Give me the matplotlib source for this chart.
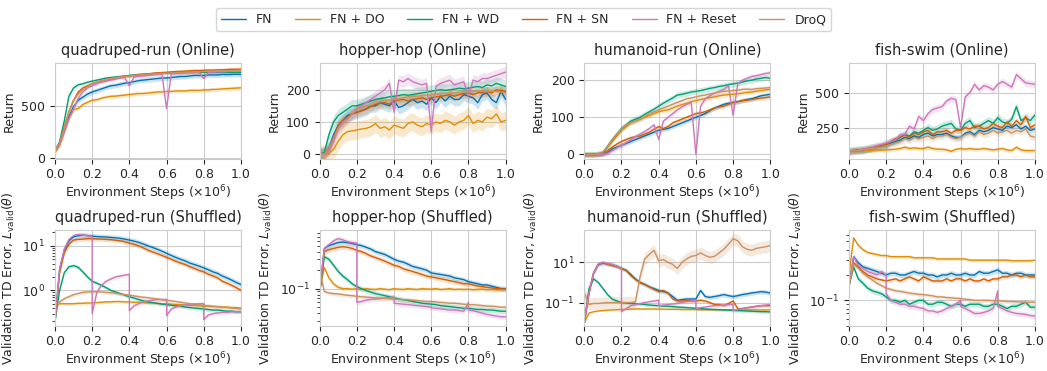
import numpy as np
import matplotlib
matplotlib.use("Agg")
import matplotlib.pyplot as plt
import seaborn as sns

methods = ["FN", "FN + DO", "FN + WD", "FN + SN", "FN + Reset", "DroQ"]
reset_steps = [0.2, 0.4, 0.6, 0.8]

# ---- online return curves (41 evaluation points from 0 to 1e6 steps) ----
quad_online = {
    "FN": [70, 150, 290, 400, 500, 560, 590, 620, 640, 655,
           670, 685, 700, 705, 715, 725, 730, 740, 750, 755,
           760, 765, 770, 775, 775, 780, 785, 790, 790, 795,
           800, 800, 800, 805, 805, 805, 810, 808, 810, 812, 810],
    "FN + DO": [60, 120, 250, 380, 470, 480, 520, 540, 560, 565,
                580, 590, 598, 600, 605, 610, 615, 620, 625, 625,
                630, 635, 640, 640, 645, 645, 650, 650, 650, 655,
                655, 655, 660, 660, 665, 665, 670, 672, 675, 678, 680],
    "FN + WD": [70, 160, 360, 600, 680, 710, 720, 735, 745, 755,
                765, 775, 780, 785, 790, 795, 800, 805, 810, 812,
                815, 818, 820, 822, 825, 825, 828, 828, 830, 830,
                830, 830, 832, 830, 830, 830, 832, 830, 830, 832, 830],
    "FN + SN": [70, 140, 300, 450, 560, 640, 680, 700, 720, 735,
                745, 755, 765, 775, 785, 790, 795, 800, 805, 810,
                815, 820, 825, 828, 830, 835, 838, 840, 842, 845,
                848, 848, 850, 852, 852, 855, 855, 858, 860, 860, 862],
    "FN + Reset": [70, 130, 250, 380, 480, 580, 640, 680, 700, 720,
                   735, 745, 755, 765, 775, 780, 700, 785, 790, 795,
                   800, 805, 810, 812, 480, 815, 818, 820, 822, 825,
                   828, 830, 770, 830, 832, 835, 835, 838, 840, 840, 842],
    "DroQ": [70, 150, 290, 450, 560, 620, 660, 690, 715, 735,
             750, 760, 770, 778, 785, 790, 795, 800, 805, 810,
             812, 815, 818, 820, 822, 825, 828, 830, 830, 832,
             835, 836, 838, 840, 840, 842, 844, 845, 846, 848, 850],
}

hopper_online = {
    "FN": [0, 0, 20, 60, 90, 105, 120, 125, 130, 135,
           140, 150, 150, 160, 155, 150, 165, 145, 150, 160,
           170, 160, 165, 155, 175, 160, 180, 165, 180, 170,
           170, 185, 180, 175, 160, 185, 190, 170, 160, 195, 170],
    "FN + DO": [0, 0, 2, 15, 40, 60, 70, 72, 75, 78,
                80, 85, 95, 80, 85, 75, 90, 85, 80, 95,
                100, 90, 85, 95, 90, 100, 95, 105, 100, 90,
                100, 105, 120, 95, 105, 100, 115, 110, 125, 100, 105],
    "FN + WD": [0, 5, 60, 100, 120, 130, 140, 150, 150, 155,
                160, 165, 170, 172, 175, 178, 180, 182, 185, 183,
                185, 188, 190, 192, 195, 198, 200, 198, 200, 202,
                205, 203, 205, 208, 210, 207, 215, 212, 220, 215, 210],
    "FN + SN": [0, 0, 15, 50, 90, 105, 115, 125, 130, 135,
                140, 148, 155, 158, 160, 155, 165, 168, 170, 165,
                170, 172, 175, 170, 175, 178, 180, 182, 185, 180,
                185, 188, 190, 185, 190, 192, 195, 190, 200, 198, 195],
    "FN + Reset": [0, 0, 10, 40, 80, 100, 110, 125, 140, 150,
                   160, 170, 180, 190, 200, 220, 130, 230, 225, 235,
                   225, 220, 215, 220, 70, 210, 220, 225, 230, 215,
                   220, 225, 180, 230, 225, 235, 235, 240, 245, 250, 255],
    "DroQ": [0, 0, 20, 50, 80, 95, 110, 125, 140, 145,
             150, 152, 160, 163, 165, 168, 170, 172, 175, 178,
             180, 180, 182, 183, 185, 186, 188, 189, 190, 190,
             192, 193, 195, 195, 195, 196, 195, 196, 194, 193, 190],
}

humanoid_online = {
    "FN": [0, 0, 0, 0, 0, 5, 15, 20, 25, 30,
           35, 40, 45, 50, 55, 60, 65, 68, 70, 75,
           80, 85, 90, 95, 100, 105, 110, 118, 125, 130,
           135, 138, 140, 142, 145, 148, 150, 154, 158, 160, 162],
    "FN + DO": [0, 0, 0, 2, 5, 20, 35, 50, 65, 75,
                85, 90, 95, 100, 105, 110, 115, 118, 120, 125,
                130, 134, 138, 142, 145, 148, 150, 153, 155, 158,
                160, 161, 162, 163, 165, 167, 168, 170, 172, 174, 175],
    "FN + WD": [0, 0, 0, 2, 5, 22, 40, 55, 70, 80,
                90, 95, 100, 108, 115, 122, 130, 138, 145, 152,
                160, 162, 165, 168, 170, 172, 175, 178, 180, 183,
                185, 188, 190, 192, 195, 198, 200, 203, 205, 207, 205],
    "FN + SN": [0, 0, 0, 0, 2, 10, 20, 28, 35, 40,
                45, 48, 50, 55, 60, 68, 75, 70, 75, 85,
                90, 95, 100, 105, 110, 112, 115, 120, 125, 128,
                130, 135, 140, 142, 145, 146, 148, 150, 152, 153, 155],
    "FN + Reset": [0, 0, 0, 0, 0, 3, 10, 18, 25, 32,
                   40, 48, 55, 62, 70, 80, 40, 90, 100, 110,
                   120, 128, 135, 140, 0, 130, 150, 158, 165, 170,
                   175, 185, 105, 190, 200, 205, 210, 212, 215, 218, 220],
    "DroQ": [0, 0, 0, 2, 6, 22, 40, 55, 70, 80,
             86, 90, 95, 102, 110, 115, 120, 125, 130, 135,
             140, 145, 150, 152, 155, 158, 160, 163, 165, 168,
             170, 171, 172, 173, 175, 176, 175, 177, 178, 179, 180],
}

fish_online = {
    "FN": [80, 85, 90, 85, 95, 100, 110, 115, 120, 140,
           150, 160, 180, 170, 190, 180, 200, 210, 190, 200,
           200, 210, 190, 180, 180, 210, 220, 200, 230, 220,
           230, 250, 240, 230, 260, 250, 270, 240, 260, 230, 240],
    "FN + DO": [80, 80, 82, 85, 85, 88, 90, 88, 90, 92,
                95, 100, 110, 100, 105, 100, 100, 110, 100, 95,
                95, 90, 80, 95, 100, 95, 100, 95, 95, 100,
                95, 90, 95, 100, 90, 85, 110, 90, 85, 85, 85],
    "FN + WD": [80, 85, 90, 90, 100, 105, 110, 115, 130, 150,
                160, 180, 200, 190, 220, 210, 230, 250, 230, 240,
                260, 270, 280, 240, 230, 280, 300, 250, 260, 280,
                300, 280, 320, 290, 280, 310, 400, 300, 320, 300, 340],
    "FN + SN": [80, 85, 85, 95, 100, 105, 115, 120, 130, 150,
                170, 180, 200, 180, 210, 200, 220, 230, 200, 220,
                220, 230, 210, 230, 230, 250, 240, 260, 260, 240,
                250, 280, 260, 250, 290, 260, 300, 270, 330, 250, 270],
    "FN + Reset": [80, 85, 90, 95, 100, 110, 120, 130, 140, 150,
                   160, 200, 200, 260, 240, 330, 300, 350, 380, 390,
                   400, 440, 460, 450, 250, 470, 500, 560, 520, 550,
                   540, 520, 560, 580, 560, 540, 630, 600, 570, 565, 560],
    "DroQ": [80, 85, 85, 90, 95, 100, 105, 110, 120, 130,
             140, 150, 170, 160, 180, 170, 180, 190, 170, 190,
             190, 200, 180, 170, 180, 200, 210, 190, 220, 200,
             210, 230, 210, 220, 230, 210, 230, 220, 240, 190, 180],
}

# ---- validation TD error on shuffled data ----
quad_shuffled = {
    "FN": [0.2, 3.0, 8.0, 13, 16, 17, 17.4, 17, 16.5, 16.2,
           16, 15.8, 15.5, 15.2, 14.8, 14.2, 13.5, 12.8, 12, 11,
           10, 9.2, 8.4, 7.6, 6.8, 6.1, 5.5, 5.0, 4.6, 4.1,
           3.8, 3.5, 3.2, 2.9, 2.6, 2.4, 2.1, 1.9, 1.7, 1.5, 1.35],
    "FN + DO": [0.45, 0.5, 0.5, 0.5, 0.5, 0.51, 0.51, 0.52, 0.52, 0.53,
                0.54, 0.55, 0.55, 0.56, 0.56, 0.55, 0.55, 0.54, 0.54, 0.53,
                0.52, 0.52, 0.51, 0.5, 0.5, 0.49, 0.48, 0.48, 0.47, 0.46,
                0.46, 0.45, 0.44, 0.44, 0.43, 0.43, 0.42, 0.42, 0.41, 0.41, 0.4],
    "FN + WD": [0.2, 1.0, 2.5, 3.4, 3.6, 3.3, 2.6, 2.0, 1.6, 1.45,
                1.3, 1.15, 1.0, 0.92, 0.85, 0.78, 0.72, 0.67, 0.62, 0.58,
                0.55, 0.53, 0.51, 0.49, 0.48, 0.46, 0.45, 0.44, 0.42, 0.41,
                0.4, 0.39, 0.38, 0.37, 0.36, 0.36, 0.35, 0.34, 0.34, 0.33, 0.33],
    "FN + SN": [0.2, 2.5, 7, 11, 13.5, 14, 14.2, 14.5, 14.5, 14.3,
                14.2, 14, 13.8, 13.4, 13, 12.4, 11.5, 10.8, 10, 9,
                8, 7.3, 6.7, 6.1, 5.5, 5, 4.5, 4.1, 3.8, 3.4,
                3.1, 2.8, 2.6, 2.3, 2.1, 1.9, 1.6, 1.45, 1.3, 1.15, 1.0],
    "FN + Reset": [0.2, 3.0, 8.5, 14, 17, 18, 17.5, 17, 16, 0.9,
                   1.3, 1.6, 1.8, 2.0, 2.1, 2.2, 2.3, 0.45, 0.5, 0.55,
                   0.58, 0.6, 0.62, 0.62, 0.62, 0.38, 0.42, 0.45, 0.47, 0.48,
                   0.49, 0.5, 0.5, 0.28, 0.3, 0.31, 0.32, 0.32, 0.33, 0.33, 0.33],
    "DroQ": [0.45, 0.55, 0.65, 0.72, 0.8, 0.85, 0.9, 0.92, 0.93, 0.93,
             0.92, 0.9, 0.88, 0.86, 0.83, 0.8, 0.78, 0.75, 0.72, 0.7,
             0.68, 0.66, 0.64, 0.62, 0.6, 0.58, 0.56, 0.54, 0.52, 0.5,
             0.49, 0.47, 0.46, 0.45, 0.44, 0.43, 0.42, 0.41, 0.4, 0.39, 0.38],
}
quad_reset_after = [0.3, 0.35, 0.27, 0.22]

hopper_shuffled = {
    "FN": [0.085, 0.45, 0.5, 0.53, 0.56, 0.57, 0.56, 0.54, 0.52, 0.5,
           0.47, 0.44, 0.4, 0.38, 0.36, 0.33, 0.3, 0.28, 0.27, 0.25,
           0.23, 0.22, 0.21, 0.2, 0.18, 0.175, 0.17, 0.165, 0.16, 0.15,
           0.145, 0.14, 0.13, 0.125, 0.12, 0.115, 0.115, 0.11, 0.105, 0.1, 0.1],
    "FN + DO": [0.1, 0.22, 0.15, 0.12, 0.105, 0.1, 0.1, 0.098, 0.1, 0.097,
                0.1, 0.098, 0.097, 0.1, 0.098, 0.096, 0.1, 0.098, 0.097, 0.1,
                0.098, 0.097, 0.1, 0.099, 0.098, 0.1, 0.097, 0.098, 0.1, 0.097,
                0.098, 0.097, 0.098, 0.096, 0.097, 0.098, 0.096, 0.097, 0.096, 0.097, 0.097],
    "FN + WD": [0.085, 0.33, 0.3, 0.24, 0.19, 0.16, 0.14, 0.12, 0.108, 0.1,
                0.093, 0.088, 0.083, 0.08, 0.077, 0.074, 0.071, 0.068, 0.066, 0.064,
                0.062, 0.06, 0.058, 0.057, 0.056, 0.055, 0.053, 0.052, 0.051, 0.05,
                0.049, 0.048, 0.048, 0.047, 0.046, 0.046, 0.045, 0.045, 0.044, 0.043, 0.043],
    "FN + SN": [0.085, 0.4, 0.43, 0.45, 0.47, 0.48, 0.47, 0.45, 0.42, 0.4,
                0.37, 0.34, 0.32, 0.3, 0.28, 0.26, 0.24, 0.23, 0.21, 0.2,
                0.19, 0.18, 0.17, 0.16, 0.155, 0.15, 0.145, 0.14, 0.135, 0.13,
                0.125, 0.12, 0.12, 0.115, 0.11, 0.108, 0.105, 0.103, 0.1, 0.1, 0.098],
    "FN + Reset": [0.085, 0.45, 0.52, 0.6, 0.65, 0.62, 0.58, 0.56, 0.55, 0.062,
                   0.065, 0.067, 0.068, 0.069, 0.07, 0.072, 0.073, 0.057, 0.056, 0.055,
                   0.054, 0.053, 0.052, 0.051, 0.05, 0.048, 0.047, 0.046, 0.045, 0.045,
                   0.044, 0.043, 0.06, 0.044, 0.042, 0.04, 0.038, 0.037, 0.036, 0.035, 0.035],
    "DroQ": [0.2, 0.09, 0.085, 0.083, 0.082, 0.08, 0.078, 0.077, 0.075, 0.074,
             0.073, 0.072, 0.071, 0.07, 0.07, 0.069, 0.068, 0.067, 0.066, 0.066,
             0.065, 0.064, 0.063, 0.062, 0.062, 0.061, 0.06, 0.059, 0.058, 0.058,
             0.057, 0.056, 0.055, 0.055, 0.054, 0.053, 0.052, 0.052, 0.051, 0.05, 0.05],
}
hopper_reset_after = [0.06, 0.058, 0.049, 0.045]

humanoid_shuffled = {
    "FN": [0.01, 0.3, 3, 8, 9, 8.5, 7.5, 6.5, 5, 4,
           2.5, 1.5, 1.0, 0.8, 0.6, 0.5, 0.4, 0.35, 0.3, 0.2,
           0.13, 0.14, 0.15, 0.15, 0.15, 0.4, 0.2, 0.18, 0.2, 0.22,
           0.25, 0.22, 0.2, 0.22, 0.25, 0.27, 0.3, 0.32, 0.35, 0.33, 0.3],
    "FN + DO": [0.01, 0.03, 0.035, 0.038, 0.04, 0.042, 0.043, 0.044, 0.045, 0.046,
                0.047, 0.048, 0.048, 0.048, 0.048, 0.048, 0.047, 0.047, 0.046, 0.046,
                0.046, 0.045, 0.045, 0.045, 0.045, 0.044, 0.044, 0.044, 0.044, 0.044,
                0.044, 0.043, 0.043, 0.043, 0.043, 0.043, 0.043, 0.043, 0.043, 0.043, 0.043],
    "FN + WD": [0.01, 0.5, 1.5, 1.0, 0.5, 0.25, 0.15, 0.12, 0.1, 0.095,
                0.09, 0.088, 0.085, 0.08, 0.075, 0.072, 0.07, 0.067, 0.065, 0.063,
                0.06, 0.058, 0.056, 0.054, 0.052, 0.05, 0.048, 0.046, 0.045, 0.044,
                0.043, 0.042, 0.041, 0.04, 0.039, 0.038, 0.037, 0.036, 0.035, 0.035, 0.034],
    "FN + SN": [0.01, 0.3, 3, 8, 10, 8, 7, 6, 5, 4,
                2.2, 1.4, 1.0, 0.8, 0.6, 0.45, 0.35, 0.4, 0.3, 0.15,
                0.12, 0.12, 0.13, 0.12, 0.12, 0.13, 0.12, 0.1, 0.08, 0.08,
                0.07, 0.09, 0.12, 0.05, 0.05, 0.055, 0.06, 0.065, 0.07, 0.07, 0.07],
    "FN + Reset": [0.01, 0.3, 3, 8.5, 10, 9, 8, 6.5, 5, 0.05,
                   0.07, 0.08, 0.09, 0.1, 0.11, 0.12, 0.13, 0.075, 0.08, 0.085,
                   0.09, 0.1, 0.11, 0.12, 0.13, 0.055, 0.06, 0.065, 0.07, 0.072,
                   0.075, 0.078, 0.08, 0.045, 0.05, 0.055, 0.06, 0.065, 0.07, 0.075, 0.08],
    "DroQ": [0.3, 0.08, 0.09, 0.09, 0.095, 0.1, 0.1, 0.1, 0.1, 0.1,
             0.1, 0.11, 2, 15, 25, 40, 12, 14, 10, 8,
             5, 10, 15, 20, 22, 30, 22, 18, 20, 30,
             45, 80, 150, 120, 60, 45, 40, 50, 55, 60, 70],
}
humanoid_reset_after = [0.035, 0.07, 0.05, 0.04]

fish_shuffled = {
    "FN": [0.15, 0.33, 0.28, 0.25, 0.24, 0.23, 0.22, 0.21, 0.2, 0.21,
           0.21, 0.2, 0.2, 0.21, 0.22, 0.21, 0.21, 0.2, 0.2, 0.19,
           0.2, 0.2, 0.21, 0.2, 0.2, 0.21, 0.2, 0.2, 0.22, 0.21,
           0.21, 0.22, 0.23, 0.21, 0.21, 0.2, 0.21, 0.21, 0.2, 0.2, 0.2],
    "FN + DO": [0.2, 0.55, 0.45, 0.4, 0.37, 0.36, 0.35, 0.34, 0.34, 0.33,
                0.33, 0.33, 0.33, 0.33, 0.32, 0.32, 0.32, 0.32, 0.32, 0.31,
                0.31, 0.31, 0.31, 0.31, 0.31, 0.31, 0.3, 0.3, 0.3, 0.3,
                0.3, 0.3, 0.3, 0.3, 0.3, 0.295, 0.295, 0.295, 0.295, 0.295, 0.3],
    "FN + WD": [0.15, 0.25, 0.18, 0.16, 0.14, 0.13, 0.125, 0.12, 0.11, 0.1,
                0.1, 0.095, 0.1, 0.09, 0.095, 0.1, 0.1, 0.09, 0.09, 0.095,
                0.095, 0.09, 0.085, 0.09, 0.09, 0.085, 0.09, 0.09, 0.09, 0.085,
                0.085, 0.09, 0.09, 0.085, 0.08, 0.085, 0.085, 0.09, 0.095, 0.083, 0.083],
    "FN + SN": [0.15, 0.28, 0.25, 0.22, 0.2, 0.19, 0.18, 0.175, 0.17, 0.175,
                0.18, 0.17, 0.18, 0.19, 0.18, 0.17, 0.19, 0.18, 0.17, 0.17,
                0.17, 0.18, 0.17, 0.18, 0.18, 0.17, 0.18, 0.17, 0.17, 0.18,
                0.17, 0.18, 0.18, 0.19, 0.19, 0.2, 0.2, 0.19, 0.2, 0.19, 0.19],
    "FN + Reset": [0.15, 0.33, 0.26, 0.24, 0.22, 0.21, 0.2, 0.22, 0.2, 0.1,
                   0.095, 0.09, 0.09, 0.085, 0.085, 0.082, 0.08, 0.075, 0.075, 0.072,
                   0.075, 0.08, 0.085, 0.09, 0.1, 0.08, 0.075, 0.07, 0.07, 0.072,
                   0.075, 0.08, 0.13, 0.08, 0.075, 0.072, 0.07, 0.069, 0.068, 0.066, 0.065],
    "DroQ": [0.15, 0.27, 0.24, 0.21, 0.19, 0.175, 0.16, 0.15, 0.14, 0.135,
             0.13, 0.128, 0.125, 0.122, 0.12, 0.118, 0.117, 0.115, 0.113, 0.11,
             0.11, 0.108, 0.107, 0.106, 0.105, 0.103, 0.102, 0.1, 0.1, 0.1,
             0.1, 0.099, 0.099, 0.098, 0.097, 0.097, 0.096, 0.096, 0.095, 0.095, 0.095],
}
fish_reset_after = [0.12, 0.08, 0.085, 0.085]

# half-width of the shaded band (absolute for returns, multiplicative for TD error)
quad_online_spread = [25, 20, 15, 15, 15, 15]
hopper_online_spread = [20, 28, 20, 15, 18, 15]
humanoid_online_spread = [6, 6, 8, 6, 6, 6]
fish_online_spread = [20, 15, 30, 20, 25, 25]
quad_shuffled_spread = [1.15, 1.08, 1.1, 1.12, 1.1, 1.1]
hopper_shuffled_spread = [1.1, 1.08, 1.1, 1.1, 1.1, 1.08]
humanoid_shuffled_spread = [1.3, 1.1, 1.2, 1.2, 1.2, 2.0]
fish_shuffled_spread = [1.08, 1.05, 1.08, 1.06, 1.08, 1.06]

sns.set_style("whitegrid", {"xtick.bottom": True, "ytick.left": True,
                            "axes.edgecolor": ".8"})
plt.rcParams["font.family"] = ["DejaVu Sans"]
plt.rcParams["xtick.labelsize"] = 9
plt.rcParams["ytick.labelsize"] = 9
plt.rcParams["axes.labelsize"] = 9
plt.rcParams["axes.titlesize"] = 10.5
colors = sns.color_palette("colorblind")[:6]


def draw(ax, data, spread, log=False, reset_after=None):
    for m, c, s in zip(methods, colors, spread):
        y = np.asarray(data[m], dtype=float)
        x = np.linspace(0, 1, len(y))
        if m == "FN + Reset" and reset_after is not None:
            idx = [int(np.argmin(np.abs(x - r))) + 1 for r in reset_steps]
            x = np.insert(x, idx, x[np.array(idx) - 1])
            y = np.insert(y, idx, reset_after)
        if log:
            lo, hi = y / s, y * s
        else:
            lo, hi = y - s, y + s
        ax.fill_between(x, lo, hi, color=c, alpha=0.2, lw=0)
        ax.plot(x, y, color=c, lw=1.0, label=m)


fig, axes = plt.subplots(2, 4, figsize=(10.47, 3.71), dpi=100)
fig.subplots_adjust(left=0.0525, right=0.9885, top=0.830, bottom=0.122,
                    wspace=0.423, hspace=0.75)

online = [("quadruped-run", quad_online, quad_online_spread, (-5, 920)),
          ("hopper-hop", hopper_online, hopper_online_spread, (-14, 283)),
          ("humanoid-run", humanoid_online, humanoid_online_spread, (-11, 246)),
          ("fish-swim", fish_online, fish_online_spread, (28, 712))]
shuffled = [("quadruped-run", quad_shuffled, quad_shuffled_spread, quad_reset_after, (0.16, 22.5)),
            ("hopper-hop", hopper_shuffled, hopper_shuffled_spread, hopper_reset_after, (0.025, 0.89)),
            ("humanoid-run", humanoid_shuffled, humanoid_shuffled_spread, humanoid_reset_after, (0.007, 400)),
            ("fish-swim", fish_shuffled, fish_shuffled_spread, fish_reset_after, (0.05, 0.68))]

for ax, (name, data, spread, lim) in zip(axes[0], online):
    draw(ax, data, spread)
    ax.set_ylim(*lim)
    ax.set_title(f"{name} (Online)")
    ax.set_ylabel("Return")

for ax, (name, data, spread, after, lim) in zip(axes[1], shuffled):
    ax.set_yscale("log")
    draw(ax, data, spread, log=True, reset_after=after)
    ax.set_ylim(*lim)
    ax.set_title(f"{name} (Shuffled)")
    ax.set_ylabel(r"Validation TD Error, $L_{\mathrm{valid}}(\theta)$")

for ax in axes.flat:
    ax.set_xlim(0, 1)
    ax.set_xticks(np.arange(0, 1.01, 0.2))
    ax.set_xlabel(r"Environment Steps ($\times 10^6$)", labelpad=1.5)

handles, labels = axes[0, 0].get_legend_handles_labels()
fig.legend(handles, labels, loc="upper center", bbox_to_anchor=(0.5, 0.995),
           ncol=6, fontsize=9, frameon=True, columnspacing=1.8)

fig.savefig("out.png", dpi=100)
